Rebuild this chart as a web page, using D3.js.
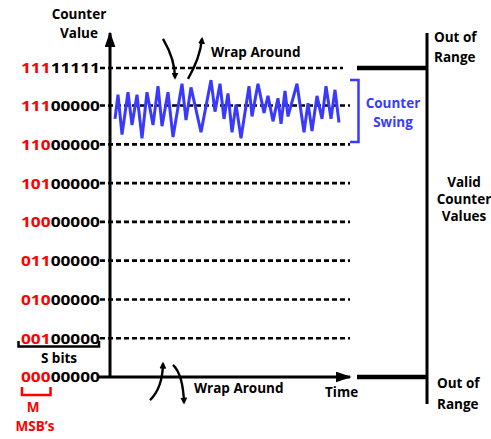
<!DOCTYPE html>
<html>
<head>
<meta charset="utf-8">
<script src="https://cdn.jsdelivr.net/npm/d3@7"></script>
<style>
  body { margin: 0; background: #fff; }
  svg text { font-family: "Open Sans", Lato, sans-serif; font-weight: 700; }
</style>
</head>
<body>
<svg id="chart" width="491" height="439"></svg>
<script>
// counter levels shown on the y axis
const levels = [0, 32, 64, 96, 128, 160, 192, 224, 255];
const msbBits = ["000", "001", "010", "011", "100", "101", "110", "111", "111"];
const lowBits = ["00000", "00000", "00000", "00000", "00000", "00000", "00000", "00000", "11111"];

// counter swing (time, counter value)
const swingTime = [5, 8, 12, 18, 22, 27, 32, 37, 43, 48, 52, 58, 63, 72, 76, 81, 91, 101, 105, 110,
  114, 118, 122, 126, 131, 139, 142, 148, 154, 158, 163, 168, 171, 175, 178, 187, 194, 198, 202,
  207, 212, 216, 221, 225, 229];
const swingValue = [213, 233, 200, 235, 208, 233, 197, 235, 208, 240, 207, 235, 198, 242, 212, 239,
  202, 245, 219, 242, 213, 234, 202, 225, 197, 240, 215, 242, 218, 232, 211, 230, 209, 236, 215,
  242, 202, 226, 203, 232, 213, 240, 213, 237, 210];

const svg = d3.select("#chart");
const blue = "#3a3aff";
const red = "#ff0000";

const x = d3.scaleLinear().domain([0, 240]).range([110, 350]);
const y = d3.scaleLinear().domain([0, 255]).range([377, 68]);

const defs = svg.append("defs");
defs.append("marker")
  .attr("id", "head")
  .attr("viewBox", "0 0 10 10")
  .attr("refX", 7).attr("refY", 5)
  .attr("markerWidth", 7).attr("markerHeight", 7)
  .attr("markerUnits", "userSpaceOnUse")
  .attr("orient", "auto")
  .append("path").attr("d", "M0,0L10,5L0,10Z").attr("fill", "#000");
defs.append("marker")
  .attr("id", "bighead")
  .attr("viewBox", "0 0 10 10")
  .attr("refX", 9).attr("refY", 5)
  .attr("markerWidth", 16).attr("markerHeight", 11)
  .attr("markerUnits", "userSpaceOnUse")
  .attr("orient", "auto")
  .attr("preserveAspectRatio", "none")
  .append("path").attr("d", "M0,0L10,5L0,10Z").attr("fill", "#000");

// dashed grid
svg.append("g").selectAll("line")
  .data(levels.filter(d => d > 0))
  .join("line")
  .attr("x1", 100)
  .attr("x2", d => d === 255 ? x(233) : x(240))
  .attr("y1", d => y(d)).attr("y2", d => y(d))
  .attr("stroke", "#000").attr("stroke-width", 2.6)
  .attr("stroke-dasharray", "5,3");

// axes
svg.append("line")
  .attr("x1", x(0)).attr("x2", x(0))
  .attr("y1", y(0) + 1).attr("y2", 33)
  .attr("stroke", "#000").attr("stroke-width", 3)
  .attr("marker-end", "url(#bighead)");
svg.append("line")
  .attr("x1", 99).attr("x2", x(240))
  .attr("y1", y(0)).attr("y2", y(0))
  .attr("stroke", "#000").attr("stroke-width", 3)
  .attr("marker-end", "url(#bighead)");

// level labels
const lab = svg.append("g").selectAll("text")
  .data(levels)
  .join("text")
  .attr("x", 100)
  .attr("y", d => y(d))
  .attr("dy", "0.36em")
  .attr("text-anchor", "end")
  .attr("font-size", 15)
  .attr("textLength", 79)
  .attr("lengthAdjust", "spacingAndGlyphs");
lab.append("tspan").attr("fill", red).text((d, i) => msbBits[i]);
lab.append("tspan").attr("fill", "#000").text((d, i) => lowBits[i]);

// counter swing
const pts = swingTime.map((t, i) => [t, swingValue[i]]);
svg.append("path")
  .datum(pts)
  .attr("d", d3.line().x(d => x(d[0])).y(d => y(d[1])))
  .attr("fill", "none")
  .attr("stroke", blue)
  .attr("stroke-width", 3)
  .attr("stroke-linejoin", "miter");

// swing bracket
svg.append("path")
  .attr("d", `M350,${y(245)}H${358.5}V${y(194)}H350`)
  .attr("fill", "none").attr("stroke", blue).attr("stroke-width", 2.5);
svg.append("text").attr("x", 393).attr("y", 108).attr("text-anchor", "middle")
  .attr("font-size", 13.5).attr("fill", blue).text("Counter");
svg.append("text").attr("x", 393).attr("y", 127).attr("text-anchor", "middle")
  .attr("font-size", 13.5).attr("fill", blue).text("Swing");

// wrap around arrows (quadratic curves in data space)
const wraps = [
  [[53, 279], [65, 262], [65, 247]],
  [[78, 246], [90, 263], [92, 279]],
  [[40, -19], [52.5, -9], [53, 11]],
  [[63, 10], [73, 2], [74, -21]]
];
svg.append("g").selectAll("path")
  .data(wraps)
  .join("path")
  .attr("d", d => {
    const p = d3.path();
    p.moveTo(x(d[0][0]), y(d[0][1]));
    p.quadraticCurveTo(x(d[1][0]), y(d[1][1]), x(d[2][0]), y(d[2][1]));
    return p.toString();
  })
  .attr("fill", "none").attr("stroke", "#000").attr("stroke-width", 2.4)
  .attr("marker-end", "url(#head)");

svg.append("text").attr("x", 211).attr("y", 57).attr("font-size", 13.5).text("Wrap Around");
svg.append("text").attr("x", 194).attr("y", 393).attr("font-size", 13.5).text("Wrap Around");
svg.append("text").attr("x", 325).attr("y", 397).attr("font-size", 13.5).text("Time");

// y axis title
svg.append("text").attr("x", 79).attr("y", 19).attr("text-anchor", "middle")
  .attr("font-size", 13.5).text("Counter");
svg.append("text").attr("x", 79).attr("y", 38).attr("text-anchor", "middle")
  .attr("font-size", 13.5).text("Value");

// range panel
svg.append("line")
  .attr("x1", x(317)).attr("x2", x(317))
  .attr("y1", 33).attr("y2", 404)
  .attr("stroke", "#000").attr("stroke-width", 3);
svg.append("g").selectAll("line")
  .data([255, 0])
  .join("line")
  .attr("x1", x(247)).attr("x2", x(318))
  .attr("y1", d => y(d)).attr("y2", d => y(d))
  .attr("stroke", "#000").attr("stroke-width", 4.5);

const side = [
  ["Out of", 434, 42, "start"], ["Range", 434, 62, "start"],
  ["Valid", 464, 187, "middle"], ["Counter", 464, 204, "middle"], ["Values", 464, 221, "middle"],
  ["Out of", 437, 388, "start"], ["Range", 437, 409, "start"]
];
svg.append("g").selectAll("text")
  .data(side)
  .join("text")
  .attr("x", d => d[1]).attr("y", d => d[2])
  .attr("text-anchor", d => d[3])
  .attr("font-size", 13.5)
  .text(d => d[0]);

// S bits bracket
svg.append("path")
  .attr("d", "M18.5,341V346.5H99V341")
  .attr("fill", "none").attr("stroke", "#000").attr("stroke-width", 2.5);
svg.append("text").attr("x", 59).attr("y", 363).attr("text-anchor", "middle")
  .attr("font-size", 13.5).text("S bits");

// M MSB's bracket
svg.append("path")
  .attr("d", "M22,387V395H50.5V387")
  .attr("fill", "none").attr("stroke", red).attr("stroke-width", 2.5);
svg.append("text").attr("x", 33).attr("y", 412).attr("text-anchor", "middle")
  .attr("font-size", 13.5).attr("fill", red).text("M");
svg.append("text").attr("x", 35).attr("y", 431).attr("text-anchor", "middle")
  .attr("font-size", 13.5).attr("fill", red).text("MSB’s");
</script>
</body>
</html>
